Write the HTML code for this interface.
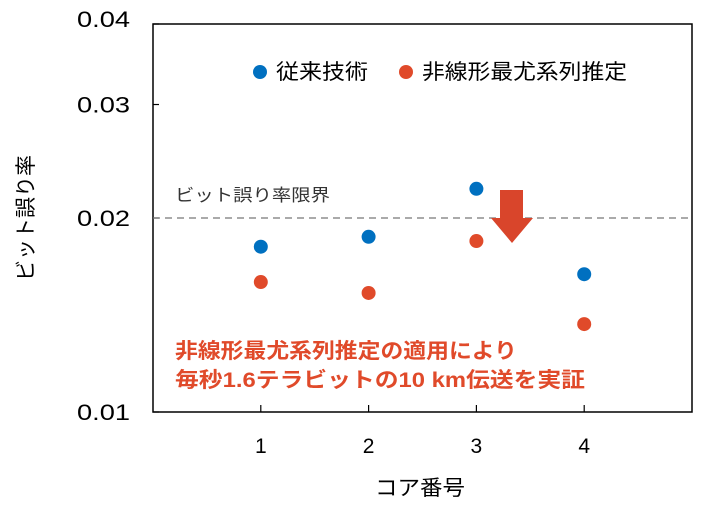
<!DOCTYPE html>
<html><head><meta charset="utf-8"><style>
html,body{margin:0;padding:0;background:#fff;}
svg text{font-family:"Liberation Sans","Noto Sans CJK JP",sans-serif;}
</style></head><body>
<svg width="720" height="522" viewBox="0 0 720 522">
<g id="plot"></g>
</svg>
<script>
const categories=[1,2,3,4];
const conventional=[0.01805,0.0187,0.0222,0.01636];
const proposed=[0.01591,0.0153,0.01842,0.01369];
const yTicks=[0.01,0.02,0.03,0.04];
const yTickLabels=["0.01","0.02","0.03","0.04"];
const limit=0.02;
const L=153,R=692,T=24,B=412;
const xS=v=>L+(R-L)*v/5;
const yS=v=>B-(B-T)*Math.log(v/0.01)/Math.log(4);
const NS="http://www.w3.org/2000/svg";
const g=document.getElementById('plot');
function mk(tag,attrs,text){const e=document.createElementNS(NS,tag);for(const k in attrs)e.setAttribute(k,attrs[k]);if(text!==undefined)e.textContent=text;g.appendChild(e);return e;}
let e;
e=mk('rect',{x:L,y:T,width:R-L,height:B-T,fill:'none',stroke:'#000','stroke-width':1.5});


yTicks.forEach((t,i)=>{
 e=mk('line',{x1:L,x2:L+6,y1:yS(t),y2:yS(t),stroke:'#000','stroke-width':1.2});
 
 
 e=mk('text',{x:130,y:yS(t)+(i==3?3:8),'text-anchor':'end','font-size':22,fill:'#000',textLength:53,lengthAdjust:'spacingAndGlyphs'},yTickLabels[i]);
 
 
});
categories.forEach(c=>{
 e=mk('line',{x1:xS(c),x2:xS(c),y1:B,y2:B-7,stroke:'#000','stroke-width':1.2});
 
 
 e=mk('text',{x:xS(c),y:453,'text-anchor':'middle','font-size':21,fill:'#000'},String(c));
 
 
});
e=mk('line',{x1:L,x2:R,y1:yS(limit),y2:yS(limit),stroke:'#777','stroke-width':1.3,'stroke-dasharray':'7,5'});


e=mk('text',{x:175,y:201,'font-size':17,fill:'#333',textLength:155,lengthAdjust:'spacingAndGlyphs'},'ビット誤り率限界');


categories.forEach((c,i)=>{
 e=mk('circle',{cx:xS(c),cy:yS(conventional[i]),r:7,fill:'#0070c0'});
 
 
 e=mk('circle',{cx:xS(c),cy:yS(proposed[i]),r:7,fill:'#e04a2a'});
 
 
});
e=mk('polygon',{points:'500,190 523,190 523,218 533,218 512,243 491,218 500,218',fill:'#d9452b'});


e=mk('circle',{cx:260,cy:72,r:7,fill:'#0070c0'});


e=mk('text',{x:276,y:79,'font-size':21,fill:'#000',textLength:92,lengthAdjust:'spacingAndGlyphs'},'従来技術');


e=mk('circle',{cx:406,cy:72,r:7,fill:'#e04a2a'});


e=mk('text',{x:422,y:79,'font-size':21,fill:'#000',textLength:205,lengthAdjust:'spacingAndGlyphs'},'非線形最尤系列推定');


e=mk('text',{x:175,y:358,'font-size':21,'font-weight':'bold',fill:'#e04a2a',textLength:342,lengthAdjust:'spacingAndGlyphs'},'非線形最尤系列推定の適用により');


e=mk('text',{x:175,y:387,'font-size':21,'font-weight':'bold',fill:'#e04a2a',textLength:410,lengthAdjust:'spacingAndGlyphs'},'毎秒1.6テラビットの10 km伝送を実証');


e=mk('text',{x:420,y:495,'text-anchor':'middle','font-size':21,fill:'#000',textLength:90,lengthAdjust:'spacingAndGlyphs'},'コア番号');


e=mk('text',{x:0,y:0,'text-anchor':'middle','font-size':21,fill:'#000',transform:'translate(33,218) rotate(-90)'},'ビット誤り率');


</script>
</body></html>
